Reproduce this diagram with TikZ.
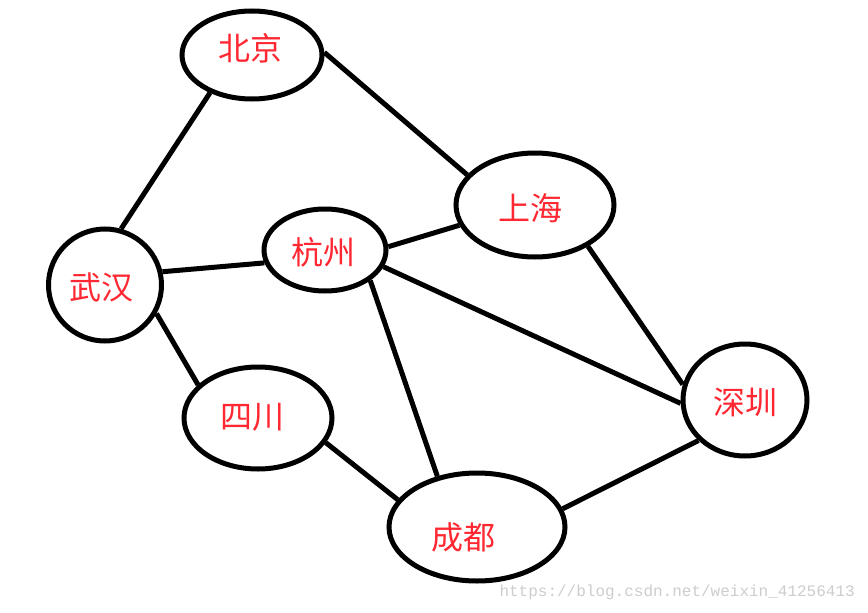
\documentclass[tikz,border=0pt]{standalone}
\usepackage{fontspec}
\usetikzlibrary{shapes.geometric}
\newfontfamily\cjk{Noto Sans CJK SC}
\newfontfamily\wm{Liberation Mono}
\definecolor{lbl}{RGB}{255,40,50}
\definecolor{wmc}{RGB}{205,205,205}
\begin{document}
\begin{tikzpicture}[x=1pt,y=-1pt,
  city/.style={draw=black,line width=5pt,ellipse,inner sep=0pt},
  cname/.style={text=lbl,font=\cjk\fontsize{32}{35}\selectfont,inner sep=0pt},
  link/.style={line width=5pt,black}]
\useasboundingbox[fill=white] (0,0) rectangle (868,613);
\node[city,minimum width=140pt,minimum height=88pt,label={[cname,xshift=-2pt,yshift=7pt]center:北京}] (bj) at (252,55) {};
\node[city,minimum width=158pt,minimum height=104pt,label={[cname,xshift=-5pt,yshift=-3pt]center:上海}] (sh) at (535,205) {};
\node[city,minimum width=122pt,minimum height=82pt,label={[cname,xshift=-2pt,yshift=-2pt]center:杭州}] (hz) at (325,250) {};
\node[city,minimum width=113pt,minimum height=112pt,label={[cname,xshift=-4pt,yshift=-2pt]center:武汉}] (wh) at (105,285) {};
\node[city,minimum width=148pt,minimum height=102pt,label={[cname,xshift=-6pt,yshift=1pt]center:四川}] (sc) at (258,418) {};
\node[city,minimum width=124pt,minimum height=112pt,label={[cname,xshift=0pt,yshift=-2pt]center:深圳}] (sz) at (745,400) {};
\node[city,minimum width=176pt,minimum height=108pt,label={[cname,xshift=-14pt,yshift=-10pt]center:成都}] (cd) at (477,527) {};
\draw[link] (bj.222) -- (wh.74);
\draw[link] (bj.2) -- (sh.156);
\draw[link] (wh.13) -- (hz.192);
\draw[link] (hz.3) -- (sh.195);
\draw[link] (hz.-16) -- (sz.183);
\draw[link] (hz.-34) -- (cd.128);
\draw[link] (sh.-38) -- (sz.166);
\draw[link] (wh.-29) -- (sc.151);
\draw[link] (sc.-20) -- (cd.161);
\draw[link] (cd.12) -- (sz.221);
\node[anchor=east,text=wmc,font=\wm\fontsize{16}{18}\selectfont,inner sep=0pt] (wmark) at (855,592) {https://blog.csdn.net/weixin\_41256413};
\end{tikzpicture}
\end{document}
